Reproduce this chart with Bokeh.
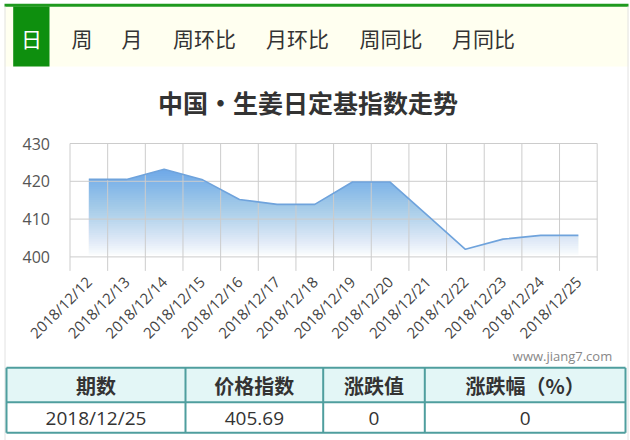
import numpy as np
from bokeh.plotting import figure
from bokeh.models import Range1d
from bokeh.core.properties import value
from bokeh.embed import file_html
from bokeh.resources import INLINE

# ---------------- data ----------------
dates = ["2018/12/12", "2018/12/13", "2018/12/14", "2018/12/15", "2018/12/16",
         "2018/12/17", "2018/12/18", "2018/12/19", "2018/12/20", "2018/12/21",
         "2018/12/22", "2018/12/23", "2018/12/24", "2018/12/25"]
index_values = [420.5, 420.5, 423.2, 420.5, 415.2, 413.9, 413.9,
                419.8, 419.8, 410.9, 402.0, 404.7, 405.69, 405.69]
y_ticks = [400, 410, 420, 430]
tabs = ["日", "周", "月", "周环比", "月环比", "周同比", "月同比"]
table_header = ["期数", "价格指数", "涨跌值", "涨跌幅（%）"]
table_row = ["2018/12/25", "405.69", "0", "0"]
title_text = "中国·生姜日定基指数走势"
watermark = "www.jiang7.com"

CJK = "Noto Sans CJK SC"
NUM = "Open Sans"
W, H = 630, 440

n = len(dates)
left_px, right_px = 69.5, 596.7          # category boundaries (pixels)
top_px, bot_px = 143.0, 256.4            # y = 430 and y = 400 (pixels)
ux = (right_px - left_px) / n
uy = (bot_px - top_px) / (y_ticks[-1] - y_ticks[0])
cat_range = Range1d(-0.5 - left_px / ux, n - 0.5 + (W - right_px) / ux)
val_range = Range1d(y_ticks[0] - (H - bot_px) / uy, y_ticks[-1] + top_px / uy)

p = figure(width=W, height=H, x_range=Range1d(0, W), y_range=Range1d(H, 0),
           output_backend="svg", toolbar_location=None, min_border=0,
           x_axis_type=None, y_axis_type=None)
p.extra_x_ranges = {"cat": cat_range}
p.extra_y_ranges = {"val": val_range}
p.outline_line_color = None
p.background_fill_color = "white"
p.border_fill_color = "white"

# ---------------- tab bar ----------------
p.quad(left=4, right=628, top=6, bottom=66, fill_color="#fffff0", line_color=None)
p.quad(left=4, right=628, top=3.3, bottom=6.3, fill_color="#1f9a1f", line_color=None)
p.quad(left=12.7, right=49, top=6, bottom=66, fill_color="#0e8f0e", line_color=None)
p.segment(x0=[4.5, 627.5], x1=[4.5, 627.5], y0=[6, 6], y1=[440, 440],
          line_color="#e2e2e2", line_width=1)
tab_x = [31, 81.5, 131.5, 204, 297, 390.5, 483]
tab_colors = ["#ffffff"] + ["#333333"] * (len(tabs) - 1)
p.text(x=tab_x, y=[37.5] * len(tabs), text=tabs, text_color=tab_colors,
       text_align="center", text_baseline="middle",
       text_font=value(CJK), text_font_size="21px")

# ---------------- title ----------------
p.text(x=[307.5], y=[101], text=[title_text], text_align="center", text_baseline="middle",
       text_font=value(CJK), text_font_size="25px", text_font_style="bold",
       text_color="#333333")

# ---------------- chart ----------------
xs = np.arange(n)
base = y_ticks[0]
top_v = max(index_values)
chart_bottom = base - 3.7
R = dict(x_range_name="cat", y_range_name="val")

p.varea(x=xs, y1=base, y2=index_values, fill_color="#6ea8e8", **R)

# white overlays -> vertical gradient (dark at the top, white at the baseline)
N = 40
levels = np.linspace(top_v, base, N + 1)[:-1]
step = (top_v - base) / N
P = np.clip((levels - base - step / 2) / (top_v - base), 0, 1)
P_prev = np.concatenate([[1.0], P[:-1]])
alphas = 1 - P / P_prev
alphas[-1] = 1.0
p.quad(left=-0.5, right=n - 0.5, bottom=base - 1, top=levels, fill_color="white",
       fill_alpha=alphas, line_color=None, **R)

# grid: category boundaries and value ticks
bounds = [i - 0.5 for i in range(n + 1)]
p.segment(x0=bounds, x1=bounds, y0=[chart_bottom] * len(bounds), y1=[y_ticks[-1]] * len(bounds),
          line_color="#cccccc", line_width=1, **R)
p.segment(x0=[-0.5] * len(y_ticks), x1=[n - 0.5] * len(y_ticks), y0=y_ticks, y1=y_ticks,
          line_color="#cccccc", line_width=1, **R)

p.line(x=xs, y=index_values, line_color="#6fa3dc", line_width=1.6, **R)

# tick labels
p.text(x=[-0.5] * len(y_ticks), y=y_ticks, text=[str(t) for t in y_ticks], x_offset=-20,
       text_align="right", text_baseline="middle", text_font=value(NUM),
       text_font_size="16px", text_color="#555555", **R)
p.text(x=xs, y=[chart_bottom] * n, text=dates, angle=np.pi / 4, y_offset=8,
       text_align="right", text_baseline="middle", text_font=value(NUM),
       text_font_size="15px", text_color="#444444", **R)

# ---------------- watermark + table ----------------
p.text(x=[611.7], y=[355], text=[watermark], text_align="right", text_baseline="middle",
       text_font=value(NUM), text_font_size="13px", text_color="#888888")

col_edges = [6, 185, 322.7, 424.3, 625]
row_top, row_mid, row_bot = 367.3, 401.7, 432.3
p.quad(left=col_edges[0], right=col_edges[-1], top=row_top, bottom=row_mid,
       fill_color="#e3f6f6", line_color=None)
border = "#4f9e9e"
p.segment(x0=[col_edges[0]] * 3, x1=[col_edges[-1]] * 3, y0=[row_top, row_mid, row_bot],
          y1=[row_top, row_mid, row_bot], line_color=border, line_width=2)
p.segment(x0=col_edges, x1=col_edges, y0=[row_top] * len(col_edges),
          y1=[row_bot] * len(col_edges), line_color=border, line_width=2)
centers = [(col_edges[i] + col_edges[i + 1]) / 2 for i in range(4)]
p.text(x=centers, y=[385] * 4, text=table_header, text_align="center", text_baseline="middle",
       text_font=value(CJK), text_font_size="20px", text_font_style="bold", text_color="#333333")
p.text(x=centers, y=[417.5] * 4, text=table_row, text_align="center", text_baseline="middle",
       text_font=value(NUM), text_font_size="19px", text_color="#333333")

open("out.html", "w").write(file_html(p, INLINE))
